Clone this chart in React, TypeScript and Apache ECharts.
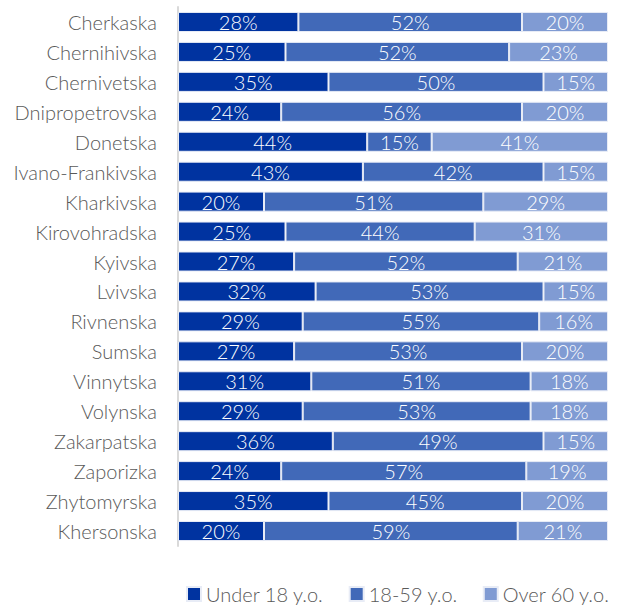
import React, { useEffect, useRef } from "react";
import * as echarts from "echarts";

const categories = [
  "Cherkaska", "Chernihivska", "Chernivetska", "Dnipropetrovska", "Donetska",
  "Ivano-Frankivska", "Kharkivska", "Kirovohradska", "Kyivska", "Lvivska",
  "Rivnenska", "Sumska", "Vinnytska", "Volynska", "Zakarpatska", "Zaporizka",
  "Zhytomyrska", "Khersonska",
];
const under18 = [28, 25, 35, 24, 44, 43, 20, 25, 27, 32, 29, 27, 31, 29, 36, 24, 35, 20];
const age18to59 = [52, 52, 50, 56, 15, 42, 51, 44, 52, 53, 55, 53, 51, 53, 49, 57, 45, 59];
const over60 = [20, 23, 15, 20, 41, 15, 29, 31, 21, 15, 16, 20, 18, 18, 15, 19, 20, 21];

const seriesNames = ["Under 18 y.o.", "18-59 y.o.", "Over 60 y.o."];
const colors = ["#0033A0", "#4169B8", "#809BD3"];

export default function App() {
  const ref = useRef<HTMLDivElement>(null);
  useEffect(() => {
    if (!ref.current) return;
    const chart = echarts.init(ref.current, undefined, { renderer: "svg" });
    const font = "Lato, 'Open Sans', sans-serif";
    const data = [under18, age18to59, over60];
    chart.setOption({
      animation: false,
      textStyle: { fontFamily: font },
      grid: { left: 178, right: 10, top: 7, bottom: 60, containLabel: false },
      legend: {
        top: 584,
        left: 186,
        itemWidth: 14,
        itemHeight: 14,
        itemGap: 25,
        padding: 0,
        icon: "rect",
        textStyle: { color: "#595959", fontSize: 20, fontWeight: 300, fontFamily: font },
        data: seriesNames,
      },
      xAxis: {
        type: "value",
        min: 0,
        max: 100,
        show: false,
      },
      yAxis: {
        type: "category",
        inverse: true,
        data: categories,
        axisLine: { show: true, lineStyle: { color: "#D9D9D9", width: 2 } },
        axisTick: { show: false },
        axisLabel: { color: "#595959", fontSize: 20, fontWeight: 300, margin: 21, fontFamily: font },
      },
      series: seriesNames.map((name, i) => ({
        name,
        type: "bar",
        stack: "total",
        barWidth: "67%",
        data: data[i],
        itemStyle: { color: colors[i], borderColor: "#E8ECF6", borderWidth: 1 },
        label: {
          show: true,
          position: "inside",
          formatter: "{c}%",
          color: "#FFFFFF",
          fontSize: 20,
          fontWeight: 300,
          fontFamily: font,
        },
      })),
    });
    return () => chart.dispose();
  }, []);
  return (
    <div
      ref={ref}
      style={{ position: "absolute", left: 0, top: 0, width: 618, height: 606 }}
    />
  );
}
